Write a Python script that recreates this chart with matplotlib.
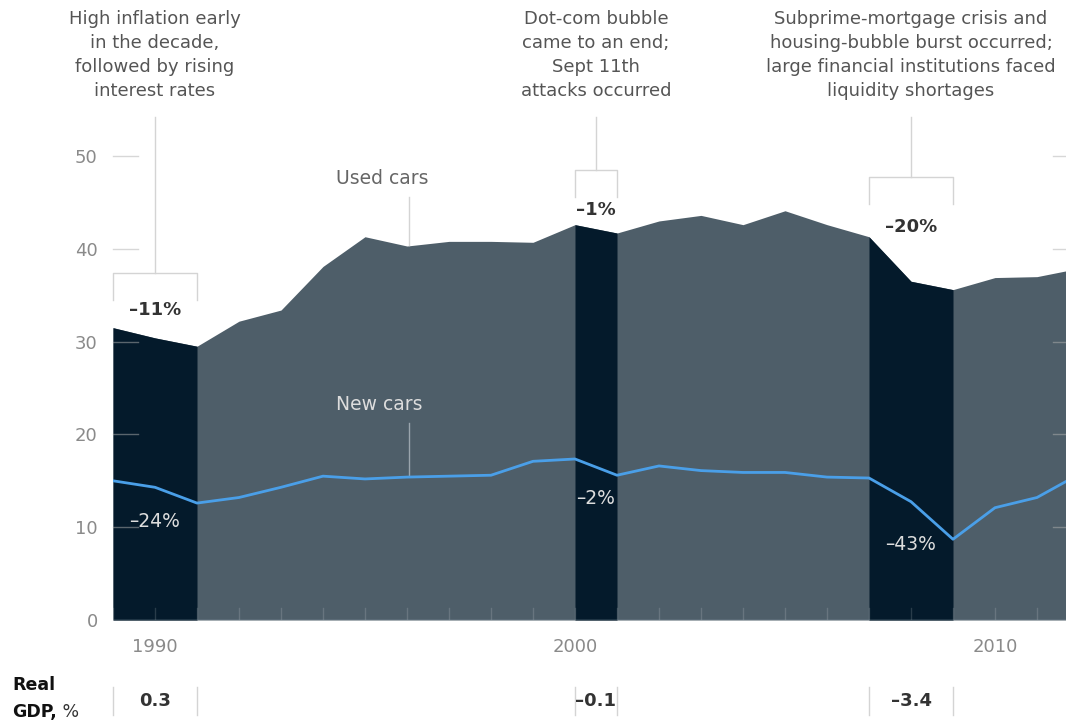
import matplotlib
matplotlib.use("Agg")
import matplotlib.pyplot as plt
import numpy as np

plt.rcParams["font.family"] = ["DejaVu Sans"]

# ---- data ----
years = np.arange(1989, 2013)
used_cars = [31.5, 30.4, 29.5, 32.2, 33.4, 38.1, 41.3, 40.3, 40.8, 40.8, 40.7, 42.6,
             41.7, 43.0, 43.6, 42.6, 44.1, 42.6, 41.3, 36.5, 35.6, 36.9, 37.0, 37.9]
new_cars = [15.0, 14.3, 12.6, 13.2, 14.3, 15.5, 15.2, 15.4, 15.5, 15.6, 17.1, 17.35,
            15.6, 16.6, 16.1, 15.9, 15.9, 15.4, 15.3, 12.75, 8.7, 12.1, 13.2, 15.7]

recessions = [(1989, 1991), (2000, 2001), (2007, 2009)]
used_change = ["–11%", "–1%", "–20%"]
new_change = ["–24%", "–2%", "–43%"]
gdp_change = ["0.3", "–0.1", "–3.4"]
events = [
    "High inflation early\nin the decade,\nfollowed by rising\ninterest rates",
    "Dot-com bubble\ncame to an end;\nSept 11th\nattacks occurred",
    "Subprime-mortgage crisis and\nhousing-bubble burst occurred;\nlarge financial institutions faced\nliquidity shortages",
]
y_ticks = [0, 10, 20, 30, 40, 50]
x_ticks = [1990, 2000, 2010]

GREY_AREA = "#4e5e69"
NAVY = "#041a2b"
BLUE = "#4a9fe8"
LIGHT = "#d4d4d4"
TXT = "#555555"

fig = plt.figure(figsize=(10.66, 7.24), dpi=100)
ax = fig.add_axes([113 / 1066, 104 / 724, 953 / 1066, 55 * 9.28 / 724])
x0, x1 = 1989, 1989 + 953 / 42
ax.set_xlim(x0, x1)
ax.set_ylim(0, 55)
for s in ax.spines.values():
    s.set_visible(False)

yrs = np.array(years)
used = np.array(used_cars)
ax.fill_between(yrs, used, 0, color=GREY_AREA, lw=0, zorder=1)
for (a, b) in recessions:
    m = (yrs >= a) & (yrs <= b)
    ax.fill_between(yrs, used, 0, where=m, color=NAVY, lw=0, zorder=2)

# year ticks inside the area
for yr in yrs:
    ax.plot([yr, yr], [0, 1.3], color="white", alpha=0.15, lw=1, zorder=3)
ax.axhline(0, color="#8da0ae", lw=1, zorder=3)

# gridline stubs
for t in y_ticks[1:]:
    ax.plot([x0, x0 + 0.6], [t, t], color="#b0b0b0", alpha=0.5, lw=1, zorder=3, clip_on=False)
    ax.plot([x1 - 0.3, x1], [t, t], color="#b0b0b0", alpha=0.5, lw=1, zorder=3)

ax.plot(yrs, new_cars, color=BLUE, lw=2, zorder=4)

ax.set_yticks(y_ticks)
ax.set_yticklabels([str(t) for t in y_ticks], fontsize=13, color="#8a8a8a")
ax.set_xticks(x_ticks)
ax.set_xticklabels([str(t) for t in x_ticks], fontsize=13, color="#8a8a8a")
ax.tick_params(axis="y", length=0, pad=11)
ax.tick_params(axis="x", length=0, pad=13)

# series labels
ax.text(1995.4, 47.6, "Used cars", ha="center", va="center", fontsize=13.5, color="#666666")
ax.plot([1996.05, 1996.05], [40.4, 45.6], color=LIGHT, lw=1, zorder=3)
ax.text(1995.35, 23.2, "New cars", ha="center", va="center", fontsize=13.5, color="#dddddd", zorder=5)
ax.plot([1996.05, 1996.05], [15.6, 21.2], color="#9aa5ad", lw=1, zorder=3)

# recession annotations
bracket_y = [37.4, 48.5, 47.7]
pct_y = [33.4, 44.2, 42.3]
inner_y = [10.6, 13.1, 8.1]
for i, (a, b) in enumerate(recessions):
    xm = (a + b) / 2
    by = bracket_y[i]
    ax.plot([a, a, b, b], [by - 2.9, by, by, by - 2.9], color=LIGHT, lw=1, clip_on=False)
    ax.plot([xm, xm], [by, 54.2], color=LIGHT, lw=1, clip_on=False)
    ax.text(xm, pct_y[i], used_change[i], ha="center", va="center", fontsize=13,
            fontweight="bold", color="#333333")
    ax.text(xm, inner_y[i], new_change[i], ha="center", va="center", fontsize=13.5,
            color="#dddddd", zorder=5)
    ax.text(xm, 60.9, events[i], ha="center", va="center", fontsize=13,
            color=TXT, linespacing=1.42, clip_on=False)
    # GDP row
    ax.plot([a, a], [-7.2, -10.2], color=LIGHT, lw=1, clip_on=False)
    ax.plot([b, b], [-7.2, -10.2], color=LIGHT, lw=1, clip_on=False)
    ax.text(xm, -8.7, gdp_change[i], ha="center", va="center", fontsize=13,
            fontweight="bold", color="#333333", clip_on=False)

ax.text(1986.6, -7.0, "Real", ha="left", va="center", fontsize=12.5,
        fontweight="bold", color="#111111")
t = ax.text(1986.6, -9.9, "GDP,", ha="left", va="center", fontsize=12.5,
            fontweight="bold", color="#111111")
ax.annotate(" %", xycoords=t, xy=(1, 0.5), va="center", fontsize=12.5, color="#333333")

fig.savefig("out.png", dpi=100)
